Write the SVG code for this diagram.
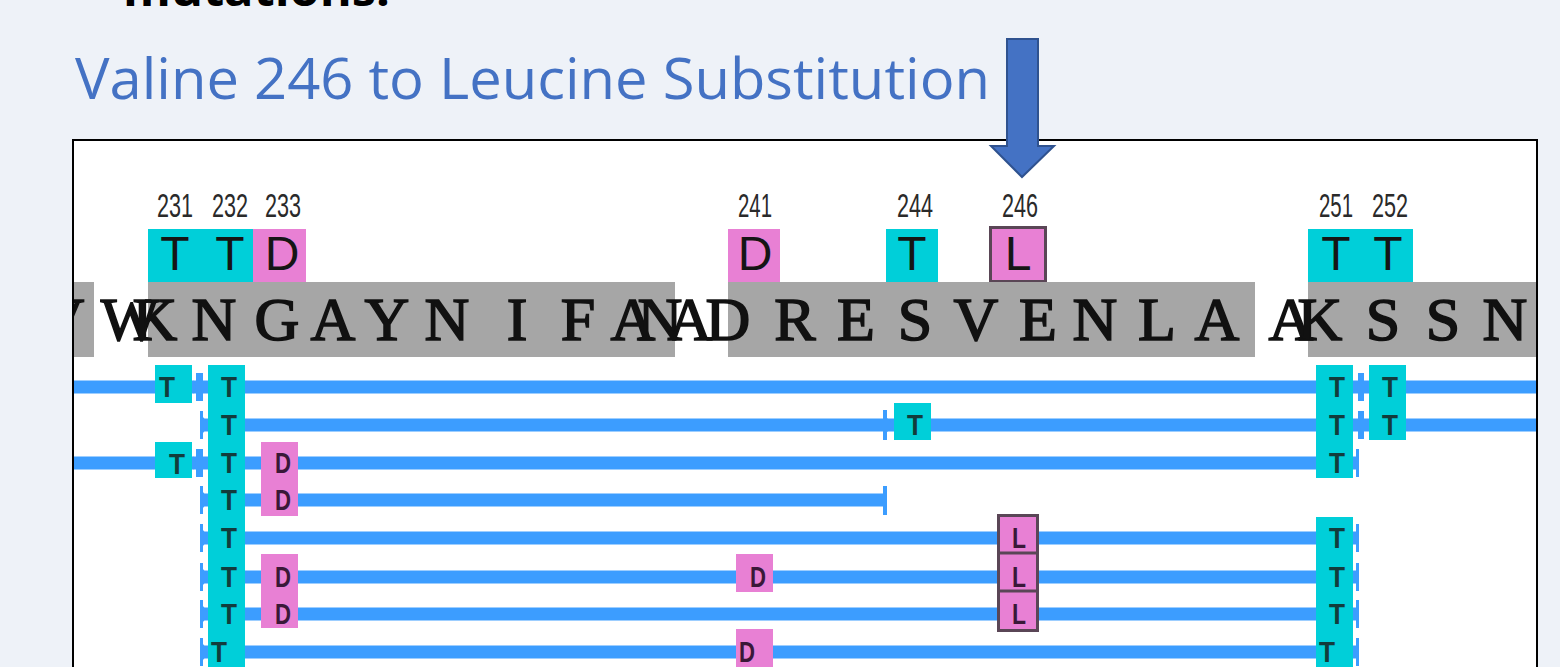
<svg xmlns="http://www.w3.org/2000/svg" width="1560" height="667" viewBox="0 0 1560 667">
<style>
.title{font-family:"Open Sans","Liberation Sans",sans-serif;font-size:56px;fill:#4472C4}
.head{font-family:"Open Sans","Liberation Sans",sans-serif;font-size:46px;font-weight:bold;fill:#000}
.num{font-family:"Liberation Sans",Arial,sans-serif;font-size:34px;fill:#2a2a2a;text-anchor:middle}
.big{font-family:"Liberation Sans",Arial,sans-serif;font-size:48px;fill:#151515;text-anchor:middle}
.seq{font-family:"Liberation Serif","Times New Roman",serif;font-size:62px;fill:#111;stroke:#111;stroke-width:1.6;text-anchor:middle}
.sm{font-family:"Liberation Sans",Arial,sans-serif;font-size:30px;font-weight:bold;text-anchor:middle}
.smT{fill:#123c3c}
.smD{fill:#3a1838}
.cy{fill:#00CFD9}
.pk{fill:#E880D4}
.gr{fill:#A6A6A6}
.rd{stroke:#3C9DFF;stroke-width:13;fill:none}
.tk{fill:#3C9DFF}
</style>
<defs>
<clipPath id="panelClip"><rect x="74" y="141" width="1462" height="540"/></clipPath>
</defs>
<rect x="0" y="0" width="1560" height="667" fill="#EEF2F8"/>
<text class="head" x="123" y="6" textLength="267" lengthAdjust="spacingAndGlyphs">mutations:</text>
<text class="title" x="75" y="99" textLength="915" lengthAdjust="spacingAndGlyphs">Valine 246 to Leucine Substitution</text>

<g id="panel">
<rect x="73" y="140" width="1464" height="560" fill="#fff" stroke="#000" stroke-width="2"/>
</g>

<g id="arrow">
<polygon points="1007,39 1038,39 1038,146 1054,146 1022,177 991,146 1007,146" fill="#4472C4" stroke="#2F528F" stroke-width="2"/>
</g>

<g id="positions">
<text class="num" x="175" y="217" textLength="36" lengthAdjust="spacingAndGlyphs">231</text>
<text class="num" x="230" y="217" textLength="36" lengthAdjust="spacingAndGlyphs">232</text>
<text class="num" x="283" y="217" textLength="36" lengthAdjust="spacingAndGlyphs">233</text>
<text class="num" x="755" y="217" textLength="34" lengthAdjust="spacingAndGlyphs">241</text>
<text class="num" x="915" y="217" textLength="36" lengthAdjust="spacingAndGlyphs">244</text>
<text class="num" x="1020" y="217" textLength="36" lengthAdjust="spacingAndGlyphs">246</text>
<text class="num" x="1336" y="217" textLength="34" lengthAdjust="spacingAndGlyphs">251</text>
<text class="num" x="1390" y="217" textLength="36" lengthAdjust="spacingAndGlyphs">252</text>
</g>

<g id="consensus-mutations">
<rect class="cy" x="148" y="229" width="105" height="53"/>
<rect class="pk" x="253" y="229" width="53" height="53"/>
<rect class="pk" x="728" y="229" width="52" height="53"/>
<rect class="cy" x="886" y="229" width="52" height="53"/>
<rect class="pk" x="990.5" y="227.5" width="55" height="54" stroke="#5a4656" stroke-width="3"/>
<rect class="cy" x="1308" y="229" width="105" height="53"/>
<text class="big" x="175" y="270">T</text>
<text class="big" x="230" y="270">T</text>
<text class="big" x="282" y="270">D</text>
<text class="big" x="755" y="270">D</text>
<text class="big" x="912" y="270">T</text>
<text class="big" x="1018" y="270">L</text>
<text class="big" x="1336" y="270">T</text>
<text class="big" x="1388" y="270">T</text>
</g>

<g id="sequence" clip-path="url(#panelClip)">
<rect class="gr" x="73" y="282" width="21" height="75"/>
<rect class="gr" x="148" y="282" width="527" height="75"/>
<rect class="gr" x="728" y="282" width="527" height="75"/>
<rect class="gr" x="1308" y="282" width="229" height="75"/>
<text class="seq" y="340" x="62 130 155 214 277 333 387 447 517 578 633 660 690 728 795 856 915 976 1038 1095 1157 1217 1291 1320 1383 1443 1505">VWKNGAYNIFANADRESVENLAAKSSN</text>
</g>

<g id="connectors" clip-path="url(#panelClip)">
<line class="rd" x1="73" y1="387" x2="1537" y2="387"/>
<line class="rd" x1="203" y1="425" x2="1537" y2="425"/>
<line class="rd" x1="73" y1="463" x2="1356" y2="463"/>
<line class="rd" x1="203" y1="500" x2="885" y2="500"/>
<line class="rd" x1="203" y1="538" x2="1356" y2="538"/>
<line class="rd" x1="203" y1="577" x2="1356" y2="577"/>
<line class="rd" x1="203" y1="614" x2="1356" y2="614"/>
<line class="rd" x1="203" y1="652" x2="1356" y2="652"/>
<path class="tk" d="M196,373 h7 v28 h-7 z M193,380 l3,7 l-3,7 z"/>
<path class="tk" d="M196,449 h7 v28 h-7 z M193,456 l3,7 l-3,7 z"/>
<path class="tk" d="M1358,373 h6 v28 h-6 z"/>
<path class="tk" d="M1358,411 h6 v28 h-6 z"/>
<path class="tk" d="M200,411 h3 v28 h-3 z M203,417 l6,8 l-6,8 z"/>
<path class="tk" d="M200,486 h3 v28 h-3 z M203,492 l6,8 l-6,8 z"/>
<path class="tk" d="M200,524 h3 v28 h-3 z M203,530 l6,8 l-6,8 z"/>
<path class="tk" d="M200,563 h3 v28 h-3 z M203,569 l6,8 l-6,8 z"/>
<path class="tk" d="M200,600 h3 v28 h-3 z M203,606 l6,8 l-6,8 z"/>
<path class="tk" d="M200,638 h3 v28 h-3 z M203,644 l6,8 l-6,8 z"/>
<path class="tk" d="M883,410 h4 v30 h-4 z M887,418 l7,7 l-7,7 z"/>
<path class="tk" d="M883,486 h4 v29 h-4 z"/>
<path class="tk" d="M1356,449 h3 v28 h-3 z"/>
<path class="tk" d="M1356,524 h3 v28 h-3 z"/>
<path class="tk" d="M1356,563 h3 v28 h-3 z"/>
<path class="tk" d="M1356,600 h3 v28 h-3 z"/>
<path class="tk" d="M1356,638 h3 v28 h-3 z"/>
</g>

<g id="read-mutations" clip-path="url(#panelClip)">
<rect class="cy" x="155" y="365" width="37" height="38"/>
<rect class="cy" x="155" y="442" width="37" height="36"/>
<rect class="cy" x="208" y="365" width="37" height="310"/>
<rect class="cy" x="894" y="403" width="37" height="37"/>
<rect class="cy" x="1316" y="365" width="37" height="113"/>
<rect class="cy" x="1316" y="517" width="37" height="158"/>
<rect class="cy" x="1369" y="365" width="37" height="75"/>
<rect class="pk" x="261" y="442" width="37" height="74"/>
<rect class="pk" x="261" y="554" width="37" height="74"/>
<rect class="pk" x="736" y="554" width="37" height="38"/>
<rect class="pk" x="736" y="629" width="37" height="46"/>
<rect class="pk" x="998.5" y="515.5" width="39" height="115" stroke="#5a4656" stroke-width="3"/>
<line x1="998" y1="553" x2="1038" y2="553" stroke="#5a4656" stroke-width="3"/>
<line x1="998" y1="591" x2="1038" y2="591" stroke="#5a4656" stroke-width="3"/>
<g class="sm smT">
<text x="167" y="397" textLength="16" lengthAdjust="spacingAndGlyphs">T</text>
<text x="177" y="474" textLength="16" lengthAdjust="spacingAndGlyphs">T</text>
<text x="229" y="397" textLength="16" lengthAdjust="spacingAndGlyphs">T</text>
<text x="229" y="435" textLength="16" lengthAdjust="spacingAndGlyphs">T</text>
<text x="229" y="473" textLength="16" lengthAdjust="spacingAndGlyphs">T</text>
<text x="229" y="510" textLength="16" lengthAdjust="spacingAndGlyphs">T</text>
<text x="229" y="548" textLength="16" lengthAdjust="spacingAndGlyphs">T</text>
<text x="229" y="587" textLength="16" lengthAdjust="spacingAndGlyphs">T</text>
<text x="229" y="624" textLength="16" lengthAdjust="spacingAndGlyphs">T</text>
<text x="219" y="662" textLength="16" lengthAdjust="spacingAndGlyphs">T</text>
<text x="915" y="435" textLength="16" lengthAdjust="spacingAndGlyphs">T</text>
<text x="1337" y="397" textLength="16" lengthAdjust="spacingAndGlyphs">T</text>
<text x="1337" y="435" textLength="16" lengthAdjust="spacingAndGlyphs">T</text>
<text x="1337" y="473" textLength="16" lengthAdjust="spacingAndGlyphs">T</text>
<text x="1337" y="548" textLength="16" lengthAdjust="spacingAndGlyphs">T</text>
<text x="1337" y="587" textLength="16" lengthAdjust="spacingAndGlyphs">T</text>
<text x="1337" y="624" textLength="16" lengthAdjust="spacingAndGlyphs">T</text>
<text x="1327" y="662" textLength="16" lengthAdjust="spacingAndGlyphs">T</text>
<text x="1390" y="397" textLength="16" lengthAdjust="spacingAndGlyphs">T</text>
<text x="1390" y="435" textLength="16" lengthAdjust="spacingAndGlyphs">T</text>
</g>
<g class="sm smD">
<text x="283" y="473" textLength="16" lengthAdjust="spacingAndGlyphs">D</text>
<text x="283" y="510" textLength="16" lengthAdjust="spacingAndGlyphs">D</text>
<text x="283" y="587" textLength="16" lengthAdjust="spacingAndGlyphs">D</text>
<text x="283" y="624" textLength="16" lengthAdjust="spacingAndGlyphs">D</text>
<text x="758" y="587" textLength="16" lengthAdjust="spacingAndGlyphs">D</text>
<text x="747" y="662" textLength="16" lengthAdjust="spacingAndGlyphs">D</text>
<text x="1019" y="548" textLength="14" lengthAdjust="spacingAndGlyphs">L</text>
<text x="1019" y="587" textLength="14" lengthAdjust="spacingAndGlyphs">L</text>
<text x="1019" y="624" textLength="14" lengthAdjust="spacingAndGlyphs">L</text>
</g>
</g>
</svg>
